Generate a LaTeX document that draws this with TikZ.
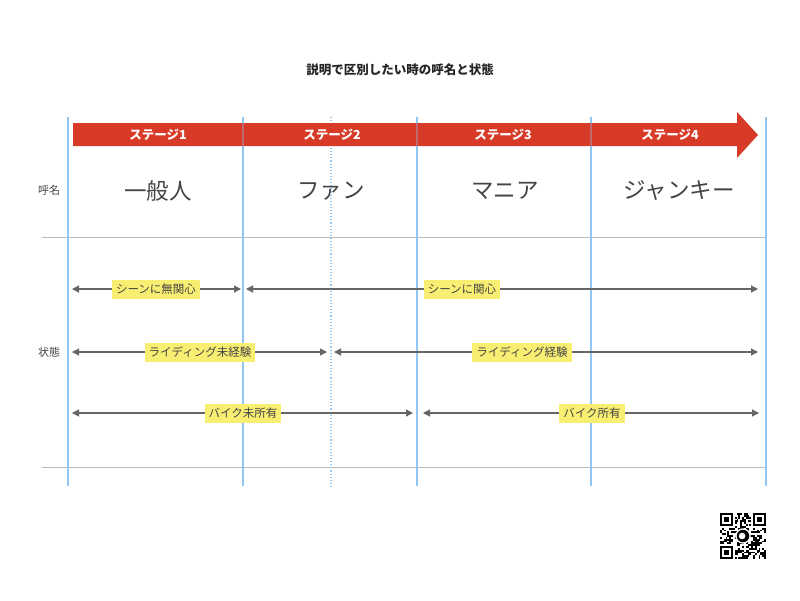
\documentclass[tikz,border=0pt]{standalone}
\usepackage{fontspec}
\setmainfont{Noto Sans CJK JP}
\usetikzlibrary{arrows.meta}
\definecolor{redA}{HTML}{D83A28}
\definecolor{blueL}{HTML}{92C6F4}
\definecolor{grayL}{HTML}{BBBBBB}
\definecolor{txt}{HTML}{444444}
\definecolor{yel}{HTML}{F8EE72}
\definecolor{arrc}{HTML}{666666}
\tikzset{
  vline/.style={draw=blueL, line width=1.1pt},
  hline/.style={draw=grayL, line width=1pt},
  stagelab/.style={text=white, font=\fontsize{12.5}{14}\selectfont\bfseries, inner sep=0pt},
  namelab/.style={text=txt, font=\fontsize{22.5}{26}\selectfont, inner sep=0pt},
  sidelab/.style={text=txt, font=\fontsize{11}{13}\selectfont, inner sep=0pt},
  lab/.style={fill=yel, text=txt, font=\fontsize{11.5}{13}\selectfont, inner xsep=4pt, inner ysep=0pt, minimum height=19pt},
  arr/.style={draw=arrc, line width=1.2pt, {Triangle[length=7pt,width=7pt]}-{Triangle[length=7pt,width=7pt]}},
}
\begin{document}
\begin{tikzpicture}[x=1pt,y=-1pt]
\useasboundingbox (0,0) rectangle (800,600);
\fill[white] (0,0) rectangle (800,600);
% title
\node[font=\fontsize{12.5}{14}\selectfont\bfseries, text=black!85, inner sep=0pt] (title) at (400,70) {説明で区別したい時の呼名と状態};
% horizontal lines
\draw[hline] (42,237.5) -- (766,237.5);
\draw[hline] (42,467.5) -- (766,467.5);
% vertical lines (under arrow)
\draw[vline, line width=1.4pt] (68,117) -- (68,486);
\foreach \x in {243,417,591}{\draw[vline] (\x,117) -- (\x,486);}
\draw[vline, line width=1.4pt] (766,117) -- (766,486);
\draw[vline, dotted, line width=1.2pt] (331,117) -- (331,486);
% red arrow
\fill[redA] (73,123) -- (737,123) -- (737,112) -- (758,135) -- (737,158) -- (737,146) -- (73,146) -- cycle;
% faint separators over the arrow
\foreach \x in {243,417,591}{\draw[vline, opacity=0.35] (\x,123) -- (\x,146);}
% stage labels
\node[stagelab] (s1) at (158,135) {ステージ1};
\node[stagelab] (s2) at (332,135) {ステージ2};
\node[stagelab] (s3) at (503,135) {ステージ3};
\node[stagelab] (s4) at (670,135) {ステージ4};
% side labels
\node[sidelab] (yobina) at (49,190) {呼名};
\node[sidelab] (jotai) at (49,352) {状態};
% names
\node[namelab] (n1) at (158,191) {一般人};
\node[namelab] (n2) at (331,191) {ファン};
\node[namelab] (n3) at (505,191) {マニア};
\node[namelab] (n4) at (679,191) {ジャンキー};
% row 1
\coordinate (a1l) at (72,289); \coordinate (a1r) at (241,289);
\coordinate (b1l) at (246,289); \coordinate (b1r) at (758,289);
\draw[arr] (a1l) -- (a1r);
\draw[arr] (b1l) -- (b1r);
\node[lab] (l1) at (156,289) {シーンに無関心};
\node[lab] (l2) at (462,289) {シーンに関心};
% row 2
\coordinate (a2l) at (72,352); \coordinate (a2r) at (327,352);
\coordinate (b2l) at (334,352); \coordinate (b2r) at (758,352);
\draw[arr] (a2l) -- (a2r);
\draw[arr] (b2l) -- (b2r);
\node[lab] (l3) at (200,352) {ライディング未経験};
\node[lab] (l4) at (522,352) {ライディング経験};
% row 3
\coordinate (a3l) at (72,413); \coordinate (a3r) at (413,413);
\coordinate (b3l) at (423,413); \coordinate (b3r) at (759,413);
\draw[arr] (a3l) -- (a3r);
\draw[arr] (b3l) -- (b3r);
\node[lab] (l5) at (243,413) {バイク未所有};
\node[lab] (l6) at (592,413) {バイク所有};
% QR code
\begin{scope}[shift={(720,513)}]
\def\s{1.84}
\pgfmathsetseed{17}
\foreach \i in {0,...,24}{
  \foreach \j in {0,...,24}{
    \pgfmathtruncatemacro\b{rnd<0.5?1:0}
    \ifnum\b=1 \fill[black] (\i*\s,\j*\s) rectangle ++(\s,\s);\fi
  }
}
\foreach \ox/\oy in {0/0,17/0,0/17}{
  \fill[white] (\ox*\s-0.2,\oy*\s-0.2) rectangle ++(8*\s+0.4,8*\s+0.4);
}
\foreach \ox/\oy in {0/0,18/0,0/18}{
  \fill[black] (\ox*\s,\oy*\s) rectangle ++(7*\s,7*\s);
  \fill[white] (\ox*\s+\s,\oy*\s+\s) rectangle ++(5*\s,5*\s);
  \fill[black] (\ox*\s+2*\s,\oy*\s+2*\s) rectangle ++(3*\s,3*\s);
}
\fill[white] (12.5*\s,12.5*\s) circle (4.2*\s);
\fill[black] (12.5*\s,12.5*\s) circle (3.4*\s);
\fill[white] (12.0*\s,12.5*\s) circle (1.8*\s);
\end{scope}
\end{tikzpicture}
\end{document}
